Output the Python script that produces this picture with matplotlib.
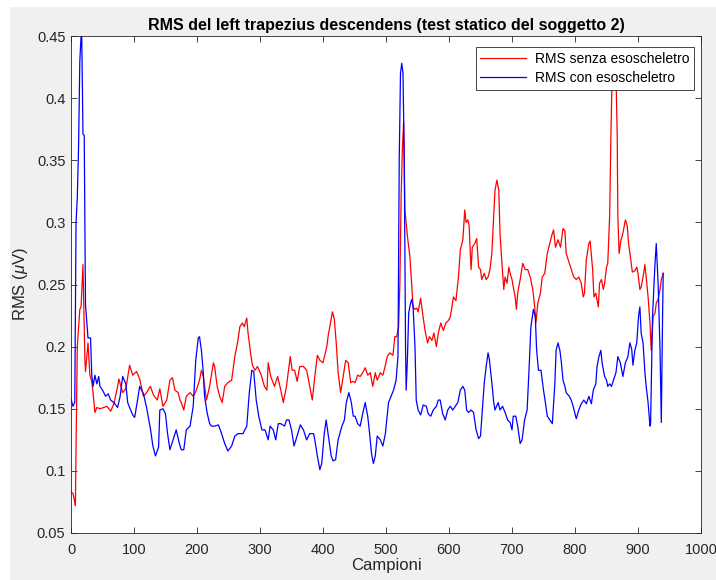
import numpy as np
import matplotlib
matplotlib.use("Agg")
import matplotlib.pyplot as plt
from matplotlib.ticker import FuncFormatter
from matplotlib.patches import Rectangle

# campioni e valori RMS senza esoscheletro
senza_x = [0, 3, 6, 7, 8, 10, 14, 16, 19, 22, 23, 27, 30, 33, 35, 38, 41, 46, 52, 57,
           63, 68, 74, 76, 82, 87, 93, 98, 104, 109, 115, 120, 126, 131, 137, 141, 146, 152, 157, 161,
           165, 170, 173, 175, 179, 183, 189, 194, 199, 204, 207, 210, 215, 220, 226, 228, 232, 236, 240, 244,
           249, 255, 260, 265, 268, 272, 275, 279, 281, 285, 288, 292, 296, 302, 307, 311, 313, 317, 323, 328,
           333, 337, 342, 348, 351, 355, 359, 363, 369, 374, 379, 383, 387, 391, 395, 400, 406, 408, 413, 415,
           418, 421, 424, 428, 432, 436, 440, 444, 448, 451, 455, 459, 463, 467, 471, 475, 479, 483, 486, 491,
           495, 499, 502, 506, 511, 514, 517, 520, 522, 524, 526, 528, 530, 534, 538, 541, 543, 546, 549, 551,
           555, 558, 562, 566, 569, 573, 576, 580, 583, 587, 591, 595, 599, 602, 604, 607, 611, 615, 618, 622,
           625, 627, 630, 632, 635, 637, 641, 644, 647, 650, 652, 656, 659, 662, 665, 668, 671, 673, 676, 679,
           681, 684, 687, 689, 692, 695, 697, 700, 702, 705, 707, 709, 713, 717, 721, 725, 729, 733, 736, 738,
           741, 745, 748, 752, 756, 760, 764, 766, 769, 773, 777, 781, 784, 786, 791, 794, 798, 802, 806, 810,
           813, 815, 818, 822, 824, 828, 830, 833, 837, 839, 842, 845, 847, 850, 852, 855, 857, 859, 862, 865,
           867, 868, 870, 873, 875, 877, 880, 883, 885, 888, 891, 895, 898, 900, 903, 905, 908, 911, 913, 916,
           919, 921, 924, 927, 929, 932, 935, 937, 940]
senza_y = [0.083, 0.082, 0.075, 0.072, 0.12, 0.2, 0.23, 0.232, 0.266, 0.19, 0.18, 0.203, 0.177, 0.172, 0.163, 0.147, 0.151, 0.15, 0.151, 0.152,
           0.148, 0.154, 0.168, 0.174, 0.163, 0.166, 0.185, 0.177, 0.18, 0.174, 0.16, 0.163, 0.168, 0.161, 0.157, 0.166, 0.152, 0.157, 0.173, 0.175,
           0.165, 0.163, 0.157, 0.155, 0.149, 0.16, 0.163, 0.16, 0.165, 0.173, 0.181, 0.176, 0.157, 0.168, 0.187, 0.184, 0.168, 0.16, 0.155, 0.168,
           0.171, 0.173, 0.192, 0.205, 0.216, 0.219, 0.216, 0.223, 0.211, 0.195, 0.185, 0.181, 0.184, 0.177, 0.168, 0.165, 0.187, 0.176, 0.168, 0.176,
           0.165, 0.155, 0.168, 0.192, 0.181, 0.181, 0.172, 0.184, 0.184, 0.181, 0.168, 0.157, 0.176, 0.193, 0.189, 0.187, 0.2, 0.208, 0.222, 0.228,
           0.222, 0.203, 0.179, 0.163, 0.176, 0.189, 0.187, 0.171, 0.172, 0.171, 0.177, 0.176, 0.179, 0.183, 0.177, 0.179, 0.168, 0.179, 0.173, 0.179,
           0.177, 0.185, 0.192, 0.195, 0.193, 0.208, 0.208, 0.216, 0.25, 0.32, 0.36, 0.381, 0.31, 0.289, 0.272, 0.248, 0.232, 0.23, 0.231, 0.228,
           0.239, 0.227, 0.213, 0.203, 0.208, 0.205, 0.211, 0.2, 0.211, 0.219, 0.213, 0.219, 0.221, 0.224, 0.23, 0.24, 0.237, 0.256, 0.278, 0.286,
           0.31, 0.3, 0.302, 0.297, 0.262, 0.28, 0.283, 0.287, 0.264, 0.262, 0.254, 0.259, 0.254, 0.256, 0.262, 0.275, 0.305, 0.326, 0.334, 0.326,
           0.291, 0.267, 0.246, 0.256, 0.251, 0.264, 0.259, 0.254, 0.248, 0.24, 0.23, 0.243, 0.254, 0.267, 0.262, 0.262, 0.256, 0.246, 0.232, 0.219,
           0.235, 0.243, 0.256, 0.259, 0.275, 0.283, 0.291, 0.294, 0.28, 0.286, 0.28, 0.295, 0.293, 0.275, 0.267, 0.262, 0.256, 0.254, 0.256, 0.251,
           0.24, 0.243, 0.27, 0.283, 0.285, 0.262, 0.24, 0.243, 0.232, 0.251, 0.254, 0.246, 0.251, 0.264, 0.267, 0.305, 0.37, 0.42, 0.425, 0.42,
           0.37, 0.305, 0.275, 0.286, 0.289, 0.294, 0.302, 0.297, 0.283, 0.272, 0.26, 0.261, 0.264, 0.259, 0.246, 0.248, 0.256, 0.266, 0.256, 0.24,
           0.219, 0.197, 0.224, 0.227, 0.235, 0.238, 0.246, 0.254, 0.259]

# campioni e valori RMS con esoscheletro
con_x = [0, 3, 6, 8, 10, 12, 14, 16, 17, 19, 21, 22, 23, 27, 31, 33, 35, 38, 41, 44,
         46, 50, 55, 59, 63, 68, 74, 78, 82, 87, 90, 93, 98, 101, 105, 109, 115, 120, 126, 130,
         134, 139, 141, 146, 150, 153, 157, 162, 167, 172, 175, 179, 183, 189, 194, 198, 202, 204, 207, 210,
         212, 216, 220, 223, 228, 234, 239, 244, 249, 255, 260, 265, 273, 279, 283, 287, 290, 294, 298, 303,
         308, 313, 316, 321, 325, 329, 333, 339, 342, 346, 350, 354, 360, 364, 369, 374, 379, 385, 387, 391,
         395, 398, 402, 405, 408, 413, 416, 420, 424, 430, 434, 437, 441, 445, 448, 451, 455, 459, 463, 467,
         471, 474, 477, 480, 483, 486, 491, 495, 499, 504, 508, 512, 516, 519, 521, 523, 525, 527, 529, 531,
         532, 534, 536, 539, 541, 543, 546, 548, 551, 555, 559, 564, 567, 571, 575, 580, 583, 586, 590, 594,
         598, 602, 606, 610, 614, 618, 622, 625, 628, 631, 635, 639, 643, 647, 650, 653, 656, 659, 662, 664,
         668, 671, 673, 678, 681, 685, 689, 693, 697, 700, 702, 706, 709, 713, 716, 720, 724, 727, 730, 734,
         737, 739, 742, 746, 750, 753, 756, 760, 764, 768, 770, 773, 776, 778, 781, 784, 786, 791, 794, 797,
         800, 802, 806, 810, 814, 818, 822, 826, 829, 833, 835, 838, 841, 843, 847, 850, 852, 855, 858, 861,
         865, 868, 872, 876, 880, 884, 887, 890, 892, 895, 898, 901, 903, 905, 908, 911, 913, 916, 919, 920,
         923, 927, 929, 932, 935, 937, 939, 940]
con_y = [0.158, 0.152, 0.155, 0.3, 0.32, 0.36, 0.43, 0.45, 0.452, 0.371, 0.37, 0.3, 0.234, 0.207, 0.207, 0.177, 0.168, 0.177, 0.17, 0.176,
         0.168, 0.165, 0.16, 0.162, 0.157, 0.155, 0.151, 0.16, 0.176, 0.17, 0.155, 0.151, 0.145, 0.143, 0.155, 0.168, 0.162, 0.151, 0.134, 0.12,
         0.112, 0.119, 0.149, 0.15, 0.146, 0.131, 0.117, 0.125, 0.133, 0.122, 0.117, 0.117, 0.133, 0.136, 0.152, 0.189, 0.207, 0.208, 0.197, 0.179,
         0.16, 0.147, 0.138, 0.136, 0.136, 0.137, 0.13, 0.122, 0.116, 0.12, 0.128, 0.13, 0.13, 0.136, 0.163, 0.181, 0.18, 0.157, 0.144, 0.133,
         0.133, 0.125, 0.136, 0.133, 0.125, 0.138, 0.138, 0.136, 0.141, 0.141, 0.133, 0.12, 0.13, 0.137, 0.133, 0.125, 0.13, 0.13, 0.125, 0.112,
         0.101, 0.106, 0.13, 0.141, 0.13, 0.112, 0.108, 0.109, 0.125, 0.136, 0.141, 0.155, 0.163, 0.155, 0.144, 0.144, 0.138, 0.136, 0.146, 0.155,
         0.144, 0.13, 0.114, 0.106, 0.112, 0.128, 0.125, 0.12, 0.13, 0.155, 0.16, 0.165, 0.173, 0.192, 0.35, 0.42, 0.428, 0.42, 0.35, 0.2,
         0.165, 0.19, 0.227, 0.235, 0.238, 0.232, 0.2, 0.157, 0.149, 0.145, 0.153, 0.152, 0.146, 0.144, 0.149, 0.152, 0.157, 0.157, 0.146, 0.141,
         0.149, 0.152, 0.149, 0.152, 0.155, 0.165, 0.168, 0.165, 0.149, 0.147, 0.149, 0.147, 0.133, 0.126, 0.128, 0.149, 0.171, 0.184, 0.195, 0.19,
         0.171, 0.155, 0.149, 0.155, 0.149, 0.152, 0.147, 0.141, 0.139, 0.133, 0.144, 0.144, 0.136, 0.122, 0.125, 0.141, 0.149, 0.181, 0.216, 0.23,
         0.224, 0.198, 0.181, 0.181, 0.165, 0.155, 0.144, 0.141, 0.138, 0.17, 0.197, 0.203, 0.197, 0.189, 0.173, 0.168, 0.163, 0.16, 0.157, 0.152,
         0.146, 0.142, 0.149, 0.154, 0.157, 0.154, 0.16, 0.154, 0.165, 0.17, 0.184, 0.192, 0.197, 0.187, 0.176, 0.173, 0.168, 0.17, 0.168, 0.173,
         0.179, 0.192, 0.187, 0.176, 0.187, 0.192, 0.203, 0.198, 0.185, 0.197, 0.203, 0.225, 0.232, 0.211, 0.203, 0.179, 0.168, 0.155, 0.136, 0.138,
         0.224, 0.267, 0.283, 0.25, 0.197, 0.139, 0.224, 0.259]

xticks = np.arange(0, 1001, 100)
yticks = [0.05, 0.1, 0.15, 0.2, 0.25, 0.3, 0.35, 0.4, 0.45]

plt.rcParams['font.family'] = ['Liberation Sans', 'DejaVu Sans']
plt.rcParams['mathtext.fontset'] = 'custom'
plt.rcParams['mathtext.it'] = 'Liberation Sans:italic'
grigio = '#262626'

fig = plt.figure(figsize=(7.16, 5.8), dpi=100, facecolor='white')
# sfondo grigio della finestra
fig.patches.append(Rectangle((10 / 716, 0), 1, 1 - 7 / 580, transform=fig.transFigure,
                             facecolor='#f0f0f0', edgecolor='none', zorder=-10))

ax = fig.add_axes([71 / 716, 47 / 580, 630 / 716, 497 / 580])
ax.set_facecolor('white')

ax.plot(senza_x, senza_y, color='#ff0000', lw=0.9, label='RMS senza esoscheletro')
ax.plot(con_x, con_y, color='#0000ff', lw=0.9, label='RMS con esoscheletro')

ax.set_xlim(0, 1000)
ax.set_ylim(0.05, 0.45)
ax.set_xticks(xticks)
ax.set_yticks(yticks)
ax.yaxis.set_major_formatter(FuncFormatter(lambda v, p: '%g' % v))
ax.tick_params(direction='in', top=True, right=True, length=4, width=0.6,
               colors=grigio, labelsize=10.5)
ax.tick_params(axis='x', pad=7)
ax.tick_params(axis='y', pad=4)
for s in ax.spines.values():
    s.set_color(grigio)
    s.set_linewidth(0.6)

ax.set_title('RMS del left trapezius descendens (test statico del soggetto 2)',
             fontsize=11.5, fontweight='bold', color='black', pad=4)
ax.set_xlabel('Campioni', fontsize=12, color=grigio, labelpad=1)
ax.set_ylabel(r'RMS ($\mu$V)', fontsize=12, color=grigio, labelpad=5)

leg = ax.legend(loc='upper right', bbox_to_anchor=(1 - 7 / 630, 1 - 11 / 497),
                borderaxespad=0, fancybox=False, framealpha=1, edgecolor=grigio,
                fontsize=10, handlelength=3.3, handletextpad=0.6, labelspacing=0.35,
                borderpad=0.35)
leg.get_frame().set_linewidth(0.6)

fig.savefig('out.png', dpi=100, facecolor=fig.get_facecolor())
